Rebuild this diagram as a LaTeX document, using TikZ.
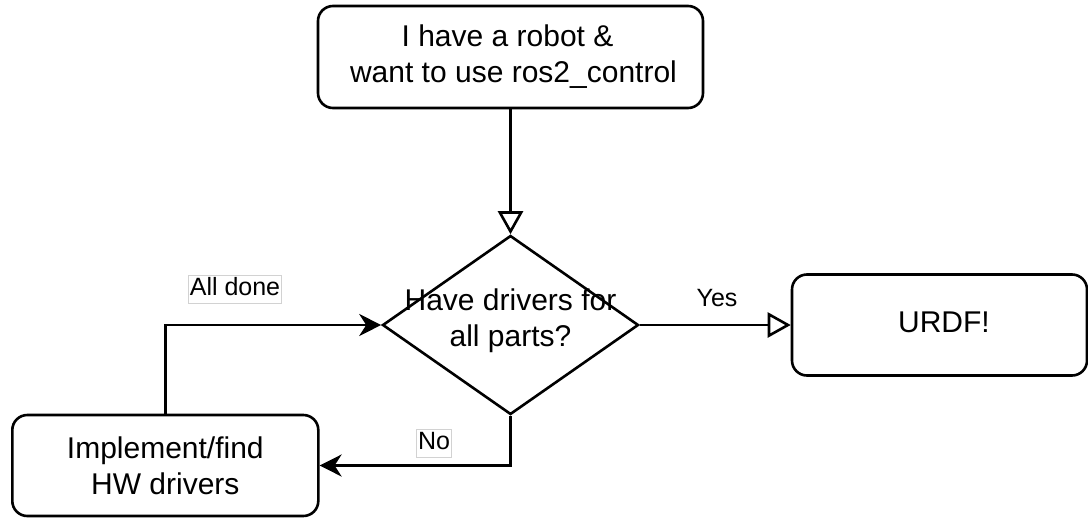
\documentclass[tikz,border=0pt]{standalone}
\usepackage{fontspec}
\setmainfont{Liberation Sans}
\usetikzlibrary{shapes.geometric,arrows.meta}
\begin{document}
\begin{tikzpicture}[x=1pt,y=-1pt,
  box/.style={draw=black, line width=2.6pt, rounded corners=15pt, fill=white, inner sep=0pt, align=center, font=\fontsize{30}{36}\selectfont},
  dia/.style={draw=black, line width=2.6pt, diamond, inner sep=0pt, minimum width=256pt, minimum height=179pt},
  txt/.style={align=center, font=\fontsize{30}{36}\selectfont, inner sep=0pt},
  lbl/.style={font=\fontsize{25}{30}\selectfont, inner xsep=1.5pt, inner ysep=1.5pt, text height=19pt, text depth=6pt},
  lblbox/.style={lbl, draw={rgb,255:red,210;green,210;blue,210}, line width=0.8pt, fill=white},
  conn/.style={line width=2.6pt},
  openarr/.style={-{Triangle[open, length=23pt, width=25pt, line width=2.6pt, fill=white]}},
  fillarr/.style={-{Stealth[length=22pt, width=22pt, inset=7pt]}}
]
\useasboundingbox (0,0) rectangle (1088,520);
\node[box, minimum width=385pt, minimum height=102pt] (top) at (510.5,57) {I have a robot \&\hspace*{6pt}\\\hspace*{6pt}want to use ros2\_control};
\node[dia] (d) at (510.5,325) {};
\node[txt] (dt) at (510.5,320.5) {Have drivers for\\all parts?};
\node[box, minimum width=295pt, minimum height=101pt, text height=21.5pt, text depth=6pt] (urdf) at (939.5,325) {\hspace*{9pt}URDF!};
\node[box, minimum width=306pt, minimum height=101pt] (impl) at (165.3,465.5) {Implement/find\\HW drivers};
\draw[conn, openarr] (top.south) -- (d.north);
\draw[conn, openarr] (d.east) -- (urdf.west);
\draw[conn, fillarr] (d.south) |- (impl.east);
\draw[conn, fillarr] (impl.north) |- (d.west);
\node[lblbox] (alldone) at (235,289.3) {All done};
\node[lblbox] (no) at (434,443) {No};
\node[lbl] (yes) at (717,300) {Yes};
\end{tikzpicture}
\end{document}
